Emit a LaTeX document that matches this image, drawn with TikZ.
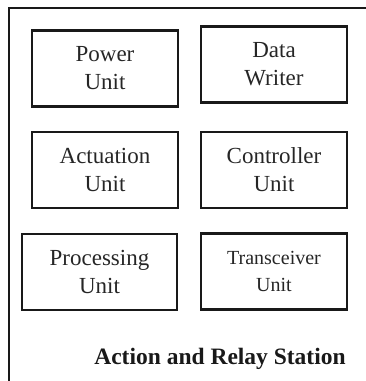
\documentclass[tikz,border=0pt]{standalone}
\usepackage{fontspec}
\setmainfont{Liberation Serif}
\begin{document}
\begin{tikzpicture}[x=1pt,y=1pt,
  unitbox/.style={draw=black!90, line width=2.2pt, minimum width=146pt, minimum height=76pt,
    inner sep=0pt, align=center, text=black!85, font=\fontsize{23}{28}\selectfont},
  frameline/.style={draw=black!90, line width=2.2pt}]
\useasboundingbox (0,0) rectangle (366,-381);
% open frame of the station
\draw[frameline] (9,-381) -- (9,-8) -- (366,-8);
% unit blocks
\node[unitbox] (power) at (105,-68.5) {Power\\Unit};
\node[unitbox] (writer) at (274,-64.5) {Data\\Writer};
\node[unitbox] (actuation) at (105,-170) {Actuation\\Unit};
\node[unitbox] (controller) at (274,-170) {Controller\\Unit};
\node[unitbox, minimum width=155pt] (processing) at (99.5,-272) {Processing\\Unit};
\node[unitbox, font=\fontsize{20}{27}\selectfont] (transceiver) at (274,-271.5) {Transceiver\\Unit};
% station caption
\node[anchor=base, text=black!90, font=\bfseries\fontsize{23.5}{28}\selectfont, inner sep=0pt] (caption) at (220,-364) {Action and Relay Station};
\end{tikzpicture}
\end{document}
